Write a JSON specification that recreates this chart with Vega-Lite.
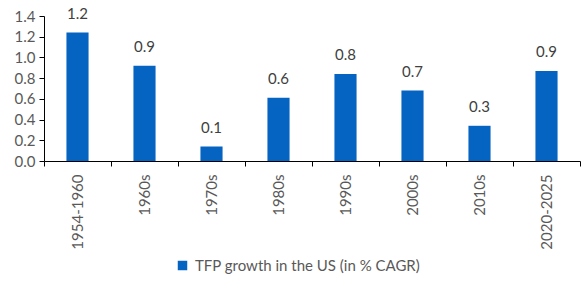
{
  "$schema": "https://vega.github.io/schema/vega-lite/v6.json",
  "width": 536,
  "height": 145,
  "autosize": {"type": "none"},
  "padding": {"left": 44, "top": 16, "right": 5, "bottom": 131},
  "background": "white",
  "config": {
    "view": {"stroke": null},
    "font": "Lato",
    "axis": {"labelFont": "Lato", "labelColor": "#595959", "labelFontSize": 15, "domainColor": "#000000", "tickColor": "#000000", "grid": false, "title": null}
  },
  "data": {
    "values": [
      {"period": "1954-1960", "tfp": 1.24},
      {"period": "1960s", "tfp": 0.92},
      {"period": "1970s", "tfp": 0.14},
      {"period": "1980s", "tfp": 0.61},
      {"period": "1990s", "tfp": 0.84},
      {"period": "2000s", "tfp": 0.68},
      {"period": "2010s", "tfp": 0.34},
      {"period": "2020-2025", "tfp": 0.87}
    ]
  },
  "encoding": {
    "x": {
      "field": "period",
      "type": "nominal",
      "sort": null,
      "scale": {"paddingInner": 0, "paddingOuter": 0},
      "axis": {"labelAngle": -90, "labelAlign": "right", "labelBaseline": "middle", "labelPadding": 8, "tickBand": "extent", "tickSize": 5, "domainWidth": 1}
    },
    "y": {
      "field": "tfp",
      "type": "quantitative",
      "scale": {"domain": [0, 1.4], "nice": false},
      "axis": {"values": [0, 0.2, 0.4, 0.6, 0.8, 1.0, 1.2, 1.4], "format": ".1f", "tickSize": 5, "labelPadding": 4}
    }
  },
  "layer": [
    {
      "mark": {"type": "bar", "width": {"band": 0.33}, "color": "#0563C1"},
      "encoding": {
        "color": {
          "datum": "TFP growth in the US (in % CAGR)",
          "scale": {"range": ["#0563C1"]},
          "legend": {"title": null, "orient": "none", "legendX": 131, "legendY": 242, "symbolType": "square", "symbolSize": 90, "labelFont": "Lato", "labelFontSize": 15, "labelLimit": 0, "labelColor": "#595959", "symbolStrokeWidth": 0, "labelOffset": 5}
        }
      }
    },
    {
      "mark": {"type": "text", "baseline": "middle", "dy": -19, "fontSize": 15, "color": "#404040", "font": "Lato"},
      "encoding": {"text": {"field": "tfp", "format": ".1f"}}
    }
  ]
}
